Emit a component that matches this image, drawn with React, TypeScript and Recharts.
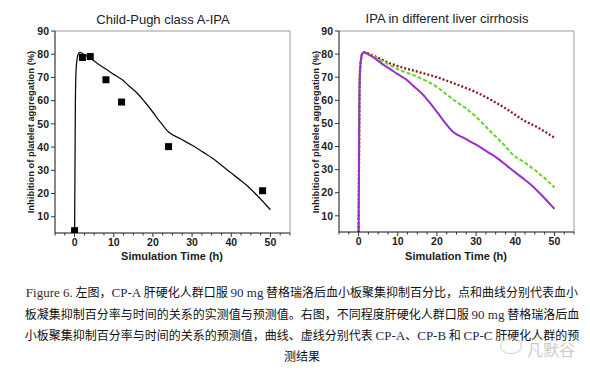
import React from 'react';
import {
  ComposedChart,
  Line,
  Scatter,
  XAxis,
  YAxis,
  ReferenceLine,
} from 'recharts';

// CP-A predicted IPA (%) over time (h)
const cpaCurve = [
  { t: 0, v: 3 },
  { t: 0.1, v: 30 },
  { t: 0.2, v: 58 },
  { t: 0.35, v: 72 },
  { t: 0.6, v: 77.5 },
  { t: 1, v: 80.3 },
  { t: 1.4, v: 80.8 },
  { t: 2, v: 80.3 },
  { t: 4, v: 78.3 },
  { t: 6, v: 75.8 },
  { t: 8, v: 73.6 },
  { t: 10, v: 71.3 },
  { t: 12, v: 69.2 },
  { t: 14, v: 66.2 },
  { t: 16, v: 63.2 },
  { t: 18, v: 59.3 },
  { t: 20, v: 55 },
  { t: 22, v: 50.5 },
  { t: 24, v: 46.5 },
  { t: 27, v: 43.6 },
  { t: 30, v: 40.8 },
  { t: 33, v: 37.6 },
  { t: 36, v: 34.2 },
  { t: 38, v: 31.5 },
  { t: 40, v: 28.8 },
  { t: 42, v: 26.2 },
  { t: 44, v: 23.5 },
  { t: 47, v: 18.5 },
  { t: 50, v: 13 },
];

// CP-A observed values
const cpaObserved = [
  { t: 0, v: 4 },
  { t: 2, v: 78.6 },
  { t: 4, v: 79 },
  { t: 8, v: 69 },
  { t: 12, v: 59.4 },
  { t: 24, v: 40.2 },
  { t: 48, v: 21.2 },
];

const cpbCurve = [
  { t: 0, v: 3 },
  { t: 0.1, v: 30 },
  { t: 0.2, v: 58 },
  { t: 0.35, v: 72 },
  { t: 0.6, v: 77.5 },
  { t: 1, v: 80.3 },
  { t: 1.4, v: 80.8 },
  { t: 2, v: 80.4 },
  { t: 5, v: 77.9 },
  { t: 10, v: 73.5 },
  { t: 15, v: 70.2 },
  { t: 20, v: 65.8 },
  { t: 24, v: 60.5 },
  { t: 27, v: 57 },
  { t: 30, v: 52.8 },
  { t: 34, v: 46 },
  { t: 37, v: 41 },
  { t: 39.5, v: 36.3 },
  { t: 42, v: 33.5 },
  { t: 45, v: 29.8 },
  { t: 48, v: 25.5 },
  { t: 50, v: 22.3 },
];

const cpcCurve = [
  { t: 0, v: 3 },
  { t: 0.1, v: 30 },
  { t: 0.2, v: 58 },
  { t: 0.35, v: 72 },
  { t: 0.6, v: 77.5 },
  { t: 1, v: 80.3 },
  { t: 1.4, v: 80.8 },
  { t: 2, v: 80.5 },
  { t: 5, v: 78.4 },
  { t: 8, v: 76 },
  { t: 11, v: 74.3 },
  { t: 15, v: 72.4 },
  { t: 20, v: 70 },
  { t: 25, v: 66.9 },
  { t: 30, v: 63.5 },
  { t: 34, v: 60 },
  { t: 38, v: 56 },
  { t: 42, v: 51.5 },
  { t: 46, v: 48 },
  { t: 50, v: 43.8 },
];

const xTicks = [
  -5, -2.5, 0, 2.5, 5, 7.5, 10, 12.5, 15, 17.5, 20, 22.5, 25, 27.5, 30, 32.5,
  35, 37.5, 40, 42.5, 45, 47.5, 50, 52.5, 55,
];
const yTicks = [10, 20, 30, 40, 50, 60, 70, 80, 90];

const FONT = "'Liberation Sans', Arial, sans-serif";
const TICK_STYLE = { fontSize: 10.5, fontWeight: 700, fill: '#222', fontFamily: FONT };

function XTick(props: any) {
  const { x, y, payload } = props;
  const v = payload.value;
  const major = v % 10 === 0;
  return (
    <g>
      <line x1={x} x2={x} y1={y} y2={y + (major ? 4 : 2.5)} stroke="#333" strokeWidth={1} />
      {major && v >= 0 && v <= 50 ? (
        <text x={x} y={y + 13} textAnchor="middle" {...TICK_STYLE}>
          {v}
        </text>
      ) : null}
    </g>
  );
}

function Square(props: any) {
  const { cx, cy } = props;
  return <rect x={cx - 3.5} y={cy - 3.5} width={7} height={7} fill="#000" />;
}

const titleStyle: React.CSSProperties = {
  position: 'absolute',
  fontFamily: FONT,
  fontSize: 13,
  color: '#222',
  whiteSpace: 'nowrap',
  transform: 'translateX(-50%)',
};

const xLabelStyle: React.CSSProperties = {
  position: 'absolute',
  fontFamily: FONT,
  fontSize: 11,
  fontWeight: 700,
  color: '#222',
  whiteSpace: 'nowrap',
  transform: 'translateX(-50%)',
};

const yLabelStyle: React.CSSProperties = {
  position: 'absolute',
  fontFamily: FONT,
  fontSize: 9.4,
  fontWeight: 700,
  color: '#222',
  whiteSpace: 'nowrap',
  transform: 'translate(-50%, -50%) rotate(-90deg)',
};

const latin: React.CSSProperties = {
  fontFamily: "'Liberation Serif', serif",
  fontSize: 13,
  color: '#1f2a48',
};

const captionLine: React.CSSProperties = {
  position: 'absolute',
  left: 7,
  width: 590,
  textAlign: 'center',
  fontFamily: "'Noto Sans CJK SC', sans-serif",
  fontSize: 12,
  lineHeight: '21px',
  color: '#111',
  whiteSpace: 'nowrap',
};

export default function App() {
  return (
    <div
      style={{
        position: 'fixed',
        left: 0,
        top: 0,
        width: 590,
        height: 372,
        background: '#fff',
        overflow: 'hidden',
      }}
    >
      <div style={{ position: 'absolute', left: 0, top: 0 }}>
        <ComposedChart
          width={295}
          height={270}
          margin={{ top: 31, right: 5, bottom: 7, left: 25 }}
        >
          <XAxis
            type="number"
            dataKey="t"
            domain={[-5, 55]}
            ticks={xTicks}
            interval={0}
            allowDataOverflow
            height={30}
            tickSize={0}
            tickMargin={0}
            tickLine={false}
            axisLine={{ stroke: '#111', strokeWidth: 1 }}
            tick={(p: any) => <XTick {...p} />}
          />
          <YAxis
            type="number"
            dataKey="v"
            domain={[3, 90]}
            ticks={yTicks}
            interval={0}
            allowDataOverflow
            width={30}
            tickSize={4}
            tickMargin={2}
            tickLine={{ stroke: '#333' }}
            axisLine={{ stroke: '#111', strokeWidth: 1 }}
            tick={TICK_STYLE}
          />
          <ReferenceLine y={90} stroke="#9a9a9a" strokeWidth={1} />
          <ReferenceLine x={55} stroke="#9a9a9a" strokeWidth={1} />
          <Line
            data={cpaCurve}
            dataKey="v"
            type="monotone"
            stroke="#111"
            strokeWidth={1.3}
            dot={false}
            isAnimationActive={false}
          />
          <Scatter
            data={cpaObserved}
            dataKey="v"
            shape={<Square />}
            isAnimationActive={false}
          />
        </ComposedChart>
      </div>

      <div style={{ position: 'absolute', left: 290, top: 0 }}>
        <ComposedChart
          width={300}
          height={270}
          margin={{ top: 31, right: 16, bottom: 8, left: 19 }}
        >
          <XAxis
            type="number"
            dataKey="t"
            domain={[-5, 55]}
            ticks={xTicks}
            interval={0}
            allowDataOverflow
            height={30}
            tickSize={0}
            tickMargin={0}
            tickLine={false}
            axisLine={{ stroke: '#111', strokeWidth: 1 }}
            tick={(p: any) => <XTick {...p} />}
          />
          <YAxis
            type="number"
            dataKey="v"
            domain={[3, 90]}
            ticks={yTicks}
            interval={0}
            allowDataOverflow
            width={30}
            tickSize={4}
            tickMargin={2}
            tickLine={{ stroke: '#333' }}
            axisLine={{ stroke: '#111', strokeWidth: 1 }}
            tick={TICK_STYLE}
          />
          <ReferenceLine y={90} stroke="#9a9a9a" strokeWidth={1} />
          <ReferenceLine x={55} stroke="#9a9a9a" strokeWidth={1} />
          <Line
            data={cpcCurve}
            dataKey="v"
            type="monotone"
            stroke="#8b1c22"
            strokeWidth={2.3}
            strokeDasharray="2 2"
            dot={false}
            isAnimationActive={false}
          />
          <Line
            data={cpbCurve}
            dataKey="v"
            type="monotone"
            stroke="#6fcf2f"
            strokeWidth={2}
            strokeDasharray="4 2"
            dot={false}
            isAnimationActive={false}
          />
          <Line
            data={cpaCurve}
            dataKey="v"
            type="monotone"
            stroke="#9a2fc8"
            strokeWidth={2}
            dot={false}
            isAnimationActive={false}
          />
        </ComposedChart>
      </div>

      <div style={{ ...titleStyle, left: 163, top: 12 }}>Child-Pugh class A-IPA</div>
      <div style={{ ...titleStyle, left: 447, top: 11 }}>IPA in different liver cirrhosis</div>

      <div style={{ ...xLabelStyle, left: 172, top: 250 }}>Simulation Time (h)</div>
      <div style={{ ...xLabelStyle, left: 456, top: 250 }}>Simulation Time (h)</div>

      <div style={{ ...yLabelStyle, left: 30, top: 132 }}>
        Inhibition of platelet aggregation (%)
      </div>
      <div style={{ ...yLabelStyle, left: 315, top: 132 }}>
        Inhibition of platelet aggregation (%)
      </div>

      <div style={{ ...captionLine, top: 281 }}>
        <span style={{ ...latin, color: '#3a2b14' }}>Figure 6.</span> 左图，
        <span style={latin}>CP-A</span> 肝硬化人群口服 <span style={latin}>90 mg</span>{' '}
        替格瑞洛后血小板聚集抑制百分比，点和曲线分别代表血小
      </div>
      <div style={{ ...captionLine, top: 303 }}>
        板凝集抑制百分率与时间的关系的实测值与预测值。右图，不同程度肝硬化人群口服{' '}
        <span style={latin}>90 mg</span> 替格瑞洛后血
      </div>
      <div style={{ ...captionLine, top: 324 }}>
        小板聚集抑制百分率与时间的关系的预测值，曲线、虚线分别代表{' '}
        <span style={latin}>CP-A</span>、<span style={latin}>CP-B</span> 和{' '}
        <span style={latin}>CP-C</span> 肝硬化人群的预
      </div>
      <div style={{ ...captionLine, top: 345 }}>测结果</div>

      <div
        style={{
          position: 'absolute',
          left: 500,
          top: 338,
          width: 20,
          height: 14,
          border: '1.5px solid #c8c8c8',
          borderRadius: '50%',
          opacity: 0.8,
        }}
      />
      <div
        style={{
          position: 'absolute',
          left: 527,
          top: 337,
          fontFamily: "'Noto Sans CJK SC', sans-serif",
          fontSize: 16,
          color: '#c4c4c4',
          opacity: 0.85,
        }}
      >
        凡默谷
      </div>
    </div>
  );
}
